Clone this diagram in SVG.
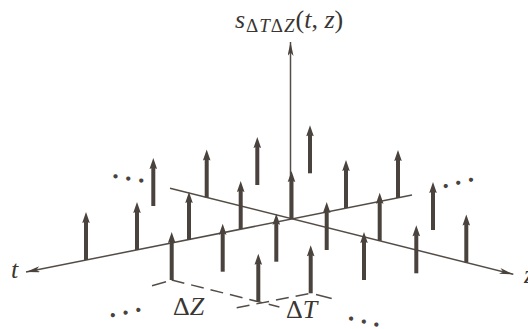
<svg xmlns="http://www.w3.org/2000/svg" width="528" height="329" viewBox="0 0 528 329">
<style>
.ax{stroke:#544d47;stroke-width:1.5;fill:none}
.dash{stroke:#544d47;stroke-width:1.5;fill:none;stroke-dasharray:13 7}
text{font-family:'Liberation Serif','DejaVu Serif',serif}
.lbl{fill:#3a3632;font-size:26px}
.it{font-style:italic}
.sub{font-size:19px;letter-spacing:1px}
.dots{fill:#4a433d;font-size:26px;font-weight:bold}
</style>
<defs>
<marker id="axhead" markerUnits="userSpaceOnUse" viewBox="0 0 14 6" refX="14" refY="3" markerWidth="14" markerHeight="6" orient="auto">
<path d="M0,0 L14,3 L0,6 L3.5,3 Z" fill="#4a433d"/>
</marker>
<g id="imp">
<rect x="-2" y="-39" width="4" height="39" fill="#4a433d"/>
<polygon points="0,-48 -3.8,-37 0,-38.5 3.8,-37" fill="#4a433d"/>
</g>
</defs>
<rect width="528" height="329" fill="#fff"/>

<g id="connectors">
<line id="t-axis" class="ax" x1="412" y1="195" x2="26" y2="272" marker-end="url(#axhead)"/>
<line id="z-axis" class="ax" x1="170" y1="188.3" x2="513.3" y2="274.3" marker-end="url(#axhead)"/>
<line id="s-axis" class="ax" x1="290.5" y1="219" x2="290.5" y2="42" marker-end="url(#axhead)"/>
<line class="ax" x1="152" y1="285.7" x2="166" y2="281.7"/>
<path class="dash" d="M171.7,280 L279.4,307"/>
<path class="dash" d="M236.7,307.7 L310.7,293.3"/>
<line class="ax" x1="316" y1="294.5" x2="331.7" y2="298.4"/>
</g>

<g id="impulses">
<use id="i4j0" href="#imp" x="86" y="260"/>
<use id="i3j0" href="#imp" x="137" y="250"/>
<use id="i2j0" href="#imp" x="189" y="240"/>
<use id="i1j0" href="#imp" x="240.7" y="229"/>
<use id="i0j0" href="#imp" x="291.5" y="219"/>
<use id="im1j0" href="#imp" x="346" y="208"/>
<use id="im2j0" href="#imp" x="398" y="198"/>
<use id="i0jm1" href="#imp" x="206.7" y="197.5"/>
<use id="i0j1" href="#imp" x="379.7" y="240.8"/>
<use id="i0j2" href="#imp" x="466.3" y="262.5"/>
<use id="i1jm1" href="#imp" x="153.3" y="206"/>
<use id="im1jm1" href="#imp" x="257.3" y="185"/>
<use id="im2jm1" href="#imp" x="310" y="173.3"/>
<use id="i3j1" href="#imp" x="222.7" y="271.7"/>
<use id="i2j1" href="#imp" x="276.3" y="261.7"/>
<use id="i1j1" href="#imp" x="326.7" y="250"/>
<use id="im1j1" href="#imp" x="433" y="230"/>
<use id="i4j1" href="#imp" x="171.7" y="280"/>
<use id="i4j2" href="#imp" x="258.3" y="301.7"/>
<use id="i3j2" href="#imp" x="310.7" y="293.3"/>
<use id="i2j2" href="#imp" x="364" y="280"/>
<use id="i1j2" href="#imp" x="416.3" y="273.3"/>
</g>

<g id="labels">
<g id="title">
<text class="lbl it" x="235" y="28">s</text>
<text class="lbl sub" x="246" y="31.5">Δ<tspan class="it">T</tspan>Δ<tspan class="it">Z</tspan></text>
<text class="lbl" x="295.5" y="28">(<tspan class="it">t</tspan>, <tspan class="it">z</tspan>)</text>
</g>
<text id="t-label" class="lbl it" x="11" y="278">t</text>
<text id="z-label" class="lbl it" x="524" y="283">z</text>
<g id="dz-label"><text class="lbl" x="173" y="315">Δ<tspan class="it">Z</tspan></text></g>
<g id="dt-label"><text class="lbl" x="286" y="318">Δ<tspan class="it">T</tspan></text></g>
<text class="dots" transform="translate(112,177.5) rotate(9.5)">. . .</text>
<text class="dots" transform="translate(443,188.5) rotate(-14)">. . .</text>
<text class="dots" transform="translate(110,317.5) rotate(-11.5)">. . .</text>
<text class="dots" transform="translate(347.5,319.5) rotate(13.5)">. . .</text>
</g>
</svg>
